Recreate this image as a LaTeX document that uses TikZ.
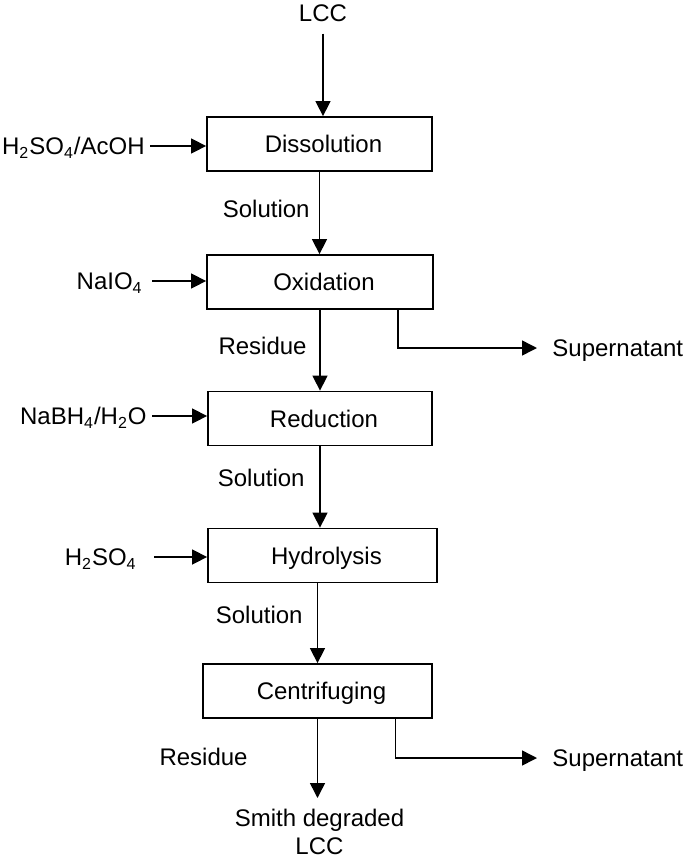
\documentclass[tikz,border=0pt]{standalone}
\usepackage{fontspec}
\setmainfont{Liberation Sans}
\usetikzlibrary{arrows.meta}

\begin{document}
\begin{tikzpicture}[x=0.5pt, y=-0.5pt, font=\fontsize{12}{14}\selectfont,
  stage/.style={draw, line width=0.9pt, minimum height=27pt, inner sep=0pt,
    text height=8.6pt, text depth=0pt, execute at begin node={\hspace*{4pt}}},
  lbl/.style={inner sep=0pt, text height=8.6pt, text depth=0pt},
  flow/.style={line width=0.75pt, -{Triangle[length=7.5pt,width=7.5pt]}}] % Tikz environment
\useasboundingbox (0,0) rectangle (685,863);

% process stages
\node[stage, minimum width=112.5pt] (diss) at (319.5,144) {Dissolution};
\node[stage, minimum width=113pt] (oxid) at (320,282) {Oxidation};
\node[stage, minimum width=112pt] (redu) at (320,418.5) {Reduction};
\node[stage, minimum width=114.5pt] (hydr) at (322.5,555.5) {Hydrolysis};
\node[stage, minimum width=114.5pt] (cent) at (317.5,691) {Centrifuging};

% reagents and products
\node[lbl] (lcc) at (323,12.5) {LCC};
\node[lbl, anchor=east] (acid) at (145,146) {H\textsubscript{2}SO\textsubscript{4}/AcOH};
\node[lbl, anchor=east] (naio) at (143,281) {NaIO\textsubscript{4}};
\node[lbl, anchor=east] (nabh) at (147,416) {NaBH\textsubscript{4}/H\textsubscript{2}O};
\node[lbl, anchor=east] (sulf) at (137,557) {H\textsubscript{2}SO\textsubscript{4}};
\node[lbl, anchor=west] (sup1) at (552,348) {Supernatant};
\node[lbl, anchor=west] (sup2) at (552,758) {Supernatant};
\node[inner sep=0pt, align=center, anchor=north] (smith) at (319.5,809) {Smith degraded\\LCC};

% stream names
\node[lbl, anchor=east] (sol1) at (310,208.5) {Solution};
\node[lbl, anchor=east] (res1) at (307,345.5) {Residue};
\node[lbl, anchor=east] (sol2) at (305,478) {Solution};
\node[lbl, anchor=east] (sol3) at (303,615) {Solution};
\node[lbl, anchor=east] (res2) at (248,757) {Residue};

% main line
\draw[flow] ([yshift=-6pt]lcc.south) -- (lcc.south |- diss.north);
\draw[flow] (diss.south) -- (diss.south |- oxid.north);
\draw[flow] (oxid.south) -- (oxid.south |- redu.north);
\draw[flow] (redu.south) -- (redu.south |- hydr.north);
\draw[flow] (cent.north |- hydr.south) -- (cent.north);
\draw[flow, shorten >=5.5pt] (cent.south) -- (cent.south |- smith.north);

% reagents in
\draw[flow] ([xshift=2.5pt]acid.east) -- (acid.east -| diss.west);
\draw[flow] ([xshift=4.5pt]naio.east) -- (naio.east -| oxid.west);
\draw[flow] ([xshift=2.5pt]nabh.east) -- (nabh.east -| redu.west);
\draw[flow] ([xshift=8.5pt]sulf.east) -- (sulf.east -| hydr.west);

% supernatant out
\draw[flow, shorten >=7.5pt] ([xshift=39pt]oxid.south) |- (sup1.west);
\draw[flow, shorten >=7.5pt] ([xshift=39pt]cent.south) |- (sup2.west);
\end{tikzpicture}
\end{document}
